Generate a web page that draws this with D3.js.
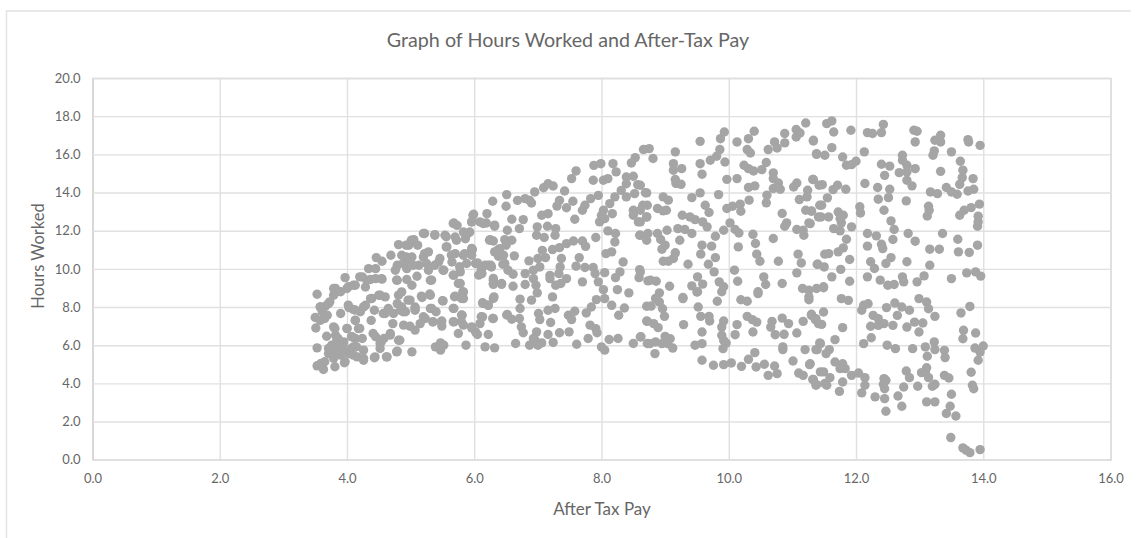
<!DOCTYPE html>
<html><head><meta charset="utf-8">
<script src="https://cdnjs.cloudflare.com/ajax/libs/d3/7.8.5/d3.min.js"></script>
<style>html,body{margin:0;padding:0;background:#fff}svg{display:block}text{font-family:Lato,"Open Sans",sans-serif}</style>
</head><body><div id="chart"></div>
<script>
const chartTitle = "Graph of Hours Worked and After-Tax Pay";
const xTitle = "After Tax Pay";
const yTitle = "Hours Worked";
const xTicks = [0,2,4,6,8,10,12,14,16];
const yTicks = [0,2,4,6,8,10,12,14,16,18,20];
// [after tax pay, hours worked]
const lowPayPoints = [
[3.53,8.67],[3.58,8.0],[3.66,8.04],[3.73,8.27],[3.61,7.75],[3.5,7.45],[3.69,7.57],[3.58,7.3],[3.51,6.9],[3.79,6.96],[3.68,6.47],[3.82,6.52],[3.53,5.86],[3.76,6.0],[3.84,5.83],[3.71,5.56],[3.79,5.48],[3.92,5.91],[3.9,5.48],[3.53,4.92],[3.59,5.04],[3.63,4.73],[3.81,4.87],[3.96,5.08],[4.03,5.56],[4.1,5.91],[4.08,6.44],[4.0,6.87],[4.18,6.87],[4.13,7.3],[3.9,7.66],[4.03,7.97],[4.1,7.87],[4.21,7.75],[4.29,8.09],[4.37,8.44],[4.5,8.62],[4.6,8.53],[4.43,7.83],[4.38,7.3],[3.82,8.97],[3.9,8.8],[3.79,8.62],[3.97,9.54],[4.0,8.97],[4.1,9.14],[4.24,9.58],[4.34,10.01],[4.29,9.05],[4.37,9.44],[4.45,9.49],[4.55,9.46],[4.46,10.59],[4.55,10.4],[4.45,10.01],[4.69,10.71],[4.81,11.27],[4.79,10.19],[4.76,9.93],[4.86,10.71],[4.94,10.45],[4.97,11.24],[5.05,11.53],[5.11,11.24],[5.02,10.62],[4.94,10.01],[4.79,9.4],[4.94,9.44],[5.1,9.61],[5.02,9.14],[4.86,8.79],[4.79,8.18],[4.99,8.36],[5.07,8.0],[4.84,7.83],[4.65,7.92],[4.6,7.66],[4.73,7.66],[4.92,7.75],[5.07,7.83],[5.18,8.5],[5.31,8.62],[5.51,8.32],[5.23,7.4],[5.31,7.92],[5.4,7.75],[5.68,7.92],[5.68,7.22],[5.81,7.57],[5.35,7.22],[5.49,7.27],[5.49,7.0],[5.15,7.13],[5.07,6.79],[4.99,6.99],[4.89,7.05],[4.72,7.13],[5.75,6.61],[5.83,7.05],[5.96,6.96],[6.02,6.7],[5.87,6.0],[5.47,6.12],[5.39,5.91],[5.47,5.74],[5.52,6.0],[5.02,5.65],[4.79,5.69],[4.63,5.39],[4.43,5.34],[4.26,5.21],[4.26,5.74],[4.52,5.83],[4.45,6.44],[4.58,6.35],[4.68,6.61],[4.81,6.26],[4.52,6.09],[4.13,6.35],[4.24,6.35],[5.22,11.85],[5.38,11.79],[5.54,11.76],[5.57,11.15],[5.28,10.89],[5.2,10.62],[5.13,10.19],[5.28,9.93],[5.31,9.4],[5.44,10.36],[5.52,9.93],[5.68,12.4],[5.73,12.28],[5.99,12.86],[5.96,12.46],[5.83,11.93],[5.86,11.58],[5.7,11.67],[5.7,10.8],[5.65,10.36],[5.83,10.71],[5.96,10.97],[5.88,10.28],[5.78,9.84],[5.68,9.67],[5.78,9.23],[5.83,8.79],[5.7,8.57],[5.83,8.44],[6.02,10.28],[6.07,9.67],[3.84,6.26],[3.95,6.17],[3.79,5.74],[3.95,5.65],[4.16,5.39],[4.05,5.8]
];
const lowPayDensePoints = [
[3.81,5.74],[3.71,5.83],[3.92,6.0],[3.86,6.35],[4.0,5.65],[3.79,5.31],[4.1,5.48],[4.15,5.92],[3.65,5.13],[3.97,5.13],[4.26,5.31],[4.07,6.44],[4.0,6.88],[4.13,7.31],[4.2,6.88],[3.81,6.88],[3.65,7.4],[3.58,8.01],[3.71,8.18],[3.84,8.8],[3.79,8.97],[4.02,8.1],[4.13,7.84],[4.26,8.01],[4.39,8.45],[4.52,8.62],[4.02,9.06],[4.13,9.14],[4.57,7.66],[4.41,6.61],[4.54,6.18],[4.68,6.53],[4.83,6.26],[4.44,5.39],[4.62,5.39],[4.78,5.65],[4.65,7.84],[4.86,8.01],[4.81,8.62],[4.78,9.41],[4.54,9.49],[4.2,9.58],[4.31,9.41],
[4.93,10.63],[4.88,10.28],[5.04,10.19],[5.25,10.28],[5.38,10.19],[5.46,10.54],[5.51,9.93],[5.33,9.41],[5.22,10.8],[5.56,11.15],[5.64,10.72],[5.85,10.8],[5.96,11.07],[5.72,11.5],[5.9,11.85],[5.56,11.68],[5.38,11.76],[5.2,11.85],[5.01,11.5],[4.93,11.24],[5.67,9.67],[5.77,10.11],[5.75,9.23],[5.82,8.8],[5.69,8.54],[5.8,8.45],[5.17,8.57],[5.3,8.68],[5.5,8.33],[5.67,7.93],[4.96,8.36],[5.07,7.93],[4.88,7.75],[5.33,7.93],[5.2,7.49],[5.35,7.23],[5.48,7.23],[5.67,7.23],[5.8,7.58],[5.8,7.23],[6.14,8.19],[6.3,8.45],[6.22,8.1],[6.11,7.49],[6.3,7.4],[6.51,7.58],[6.03,10.28],[6.11,9.93],[6.22,10.19],[6.27,10.1],[6.3,9.5],[6.3,9.23],[6.43,9.23],[6.24,11.5],[6.37,10.98],[6.5,11.24],[6.4,10.8],[6.48,10.28],[6.14,12.38],[6.32,12.29],[5.67,12.38],[5.96,12.46]
];
const midPayPoints = [
[6.29,13.54],[6.51,13.89],[6.5,13.28],[6.68,13.59],[6.8,13.68],[6.87,13.59],[6.9,13.45],[6.95,14.03],[7.09,14.25],[7.16,14.46],[7.24,14.34],[7.42,14.08],[7.55,13.54],[7.53,14.73],[7.6,15.13],[7.88,15.42],[7.99,15.51],[8.18,15.51],[8.47,15.55],[8.53,15.83],[7.87,14.64],[8.03,14.64],[8.1,14.73],[8.23,15.08],[8.39,14.81],[8.5,14.85],[8.39,14.46],[8.57,14.41],[8.52,13.94],[8.69,13.99],[7.95,13.85],[7.83,13.68],[7.74,13.33],[7.7,13.07],[7.58,12.6],[7.34,13.59],[7.3,13.29],[7.45,13.2],[7.16,12.89],[7.06,12.81],[6.59,12.6],[6.77,12.58],[6.71,12.11],[6.2,12.89],[5.98,12.81],[6.09,12.46],[6.19,12.4],[6.32,12.23],[5.93,11.93],[6.52,12.02],[7.15,12.23],[6.99,12.2],[6.98,11.76],[7.1,11.64],[7.28,12.11],[7.27,11.76],[6.25,11.53],[6.3,11.46],[6.48,11.53],[6.59,11.5],[6.4,11.06],[6.32,10.89],[6.38,10.66],[6.46,10.71],[6.63,10.68],[5.97,11.01],[5.96,10.71],[6.05,10.31],[6.17,10.19],[6.26,10.19],[6.12,9.75],[6.45,10.24],[6.53,9.93],[6.61,9.72],[6.3,9.4],[6.3,9.19],[6.43,9.19],[6.61,9.09],[6.8,9.75],[6.8,9.18],[6.93,9.93],[6.93,9.49],[6.97,9.14],[6.99,8.74],[6.86,10.42],[7.0,10.54],[7.07,10.97],[7.12,10.59],[7.03,10.1],[7.23,11.01],[7.34,11.11],[7.45,11.32],[7.56,11.46],[7.7,11.46],[7.75,11.18],[7.91,11.64],[8.1,11.99],[8.22,11.85],[8.21,11.41],[8.16,10.89],[8.07,10.8],[8.03,13.07],[7.97,12.46],[8.05,12.63],[8.17,12.89],[8.0,12.81],[8.13,13.42],[8.21,13.77],[8.31,14.11],[8.39,13.77],[8.5,13.07],[8.5,12.81],[8.58,12.46],[8.65,13.33],[8.71,12.72],[8.6,11.76],[8.73,11.85],[8.71,11.5],[7.37,10.54],[7.35,10.1],[7.33,9.75],[7.19,9.66],[7.19,9.49],[7.45,9.49],[7.28,9.14],[7.36,9.23],[7.65,10.59],[7.6,10.14],[7.74,10.07],[7.87,10.07],[7.9,9.75],[8.05,9.8],[7.95,9.32],[7.7,9.32],[8.03,8.91],[8.34,10.36],[8.29,9.84],[8.22,9.54],[8.6,9.96],[8.59,9.54],[8.73,9.37],[8.25,8.91],[8.43,8.74],[7.92,8.39],[8.05,8.44],[8.16,8.09],[7.84,8.0],[7.76,7.69],[8.36,7.95],[8.27,7.57],[8.71,8.04],[8.71,7.27],[7.23,8.53],[6.9,8.36],[6.72,8.41],[6.72,7.92],[6.31,8.53],[6.22,8.09],[6.13,8.22],[6.13,7.48],[6.09,7.13],[5.96,6.91],[6.05,6.56],[6.22,6.56],[6.29,7.4],[6.52,7.61],[6.59,7.36],[6.71,7.4],[7.01,7.66],[7.03,7.34],[7.16,7.83],[7.27,7.92],[7.2,7.19],[7.58,7.78],[7.48,7.57],[7.53,7.34],[6.74,6.96],[6.77,6.65],[6.98,6.7],[7.16,6.56],[7.34,6.65],[7.49,6.7],[6.93,6.35],[7.82,7.05],[7.91,6.87],[7.93,6.65],[7.79,6.35],[8.12,6.3],[8.26,6.35],[8.5,6.09],[8.62,6.44],[8.72,6.09],[8.0,5.91],[8.05,5.74],[7.61,6.05],[6.17,5.91],[6.32,5.86],[6.65,6.09],[6.87,6.0],[7.0,6.0],[7.06,6.12],[7.24,6.14],[6.95,6.3]
];
const upperPayPoints = [
[8.66,16.25],[8.75,16.3],[8.81,15.78],[9.16,16.13],[9.55,16.68],[9.93,17.17],[9.87,16.82],[9.86,16.25],[9.81,15.9],[9.71,15.69],[9.94,15.6],[9.55,15.51],[9.58,14.96],[9.13,15.51],[9.26,15.25],[9.13,15.17],[9.16,14.68],[9.17,14.47],[9.25,14.43],[9.97,14.69],[10.13,14.73],[10.13,16.65],[10.31,16.82],[10.4,17.21],[10.29,16.25],[10.34,16.07],[10.62,16.25],[10.72,16.65],[10.76,16.33],[10.88,16.6],[10.88,17.09],[11.06,17.3],[11.12,17.12],[11.06,16.91],[11.21,17.64],[11.33,16.74],[11.38,16.04],[10.24,15.43],[10.31,15.25],[10.39,15.13],[10.52,15.2],[10.59,15.57],[10.7,15.03],[10.7,14.73],[10.78,14.5],[10.7,14.21],[10.81,14.17],[10.6,13.86],[10.59,13.46],[10.31,14.26],[10.41,14.35],[11.02,14.29],[11.07,14.5],[11.32,14.68],[11.24,14.12],[11.23,13.77],[11.11,13.63],[11.42,14.38],[11.21,13.07],[11.3,13.02],[11.43,13.33],[11.41,12.72],[11.26,12.41],[10.84,12.9],[10.91,12.41],[10.88,12.23],[11.07,12.06],[11.17,12.02],[11.18,11.76],[8.71,13.98],[8.61,14.38],[8.97,13.77],[9.05,13.6],[9.42,13.73],[9.55,13.98],[9.84,13.89],[9.63,13.33],[9.69,12.95],[9.97,13.16],[10.06,13.28],[10.18,13.39],[10.32,13.6],[10.19,13.02],[8.72,13.33],[8.61,13.07],[8.71,12.72],[8.88,13.16],[8.97,13.04],[9.02,13.07],[8.61,12.46],[9.27,12.81],[9.39,12.72],[9.47,12.58],[9.59,12.46],[9.66,12.2],[9.03,12.02],[9.2,12.11],[9.31,12.06],[9.42,11.85],[9.23,11.5],[8.88,11.85],[8.61,11.76],[8.93,11.54],[9.0,11.24],[8.95,11.03],[9.16,10.84],[9.13,10.54],[8.97,10.4],[9.05,10.4],[9.36,10.24],[9.58,11.24],[9.56,10.77],[9.73,11.19],[9.79,10.59],[9.68,10.24],[9.77,9.84],[9.79,11.71],[9.92,12.02],[10.02,12.41],[10.1,12.06],[10.16,11.88],[10.15,11.15],[10.38,11.81],[10.42,11.33],[10.44,10.77],[10.49,10.4],[10.7,11.59],[10.78,10.4],[11.09,10.77],[11.14,10.31],[11.4,10.24],[10.09,9.93],[10.14,9.35],[10.55,9.58],[10.58,9.18],[10.46,8.8],[10.84,9.23],[11.07,9.79],[11.16,8.97],[11.26,8.88],[11.26,8.53],[11.38,8.97],[8.77,9.41],[8.86,9.35],[9.07,9.09],[8.91,8.74],[8.85,8.45],[9.28,8.5],[9.42,9.11],[9.51,9.58],[9.59,9.2],[9.51,8.8],[9.85,9.32],[9.92,9.06],[9.89,8.8],[8.61,9.84]
];
const lowerPayPoints = [
[9.28,8.44],[9.5,8.79],[9.82,8.3],[10.19,8.38],[10.29,8.3],[10.46,8.7],[11.26,8.38],[8.78,8.05],[8.91,8.26],[8.96,7.91],[8.99,7.51],[8.72,7.25],[8.82,7.13],[8.89,6.92],[9.29,7.08],[9.52,8.0],[9.56,7.51],[9.69,7.51],[9.7,7.27],[9.92,7.27],[9.89,6.95],[9.89,6.52],[9.58,6.69],[10.13,7.08],[10.1,6.55],[10.29,7.51],[10.37,7.34],[10.44,7.21],[10.38,6.69],[10.68,7.25],[10.66,6.95],[10.73,6.55],[10.84,7.42],[10.94,7.13],[10.87,6.57],[11.07,6.64],[11.17,7.25],[11.3,7.62],[11.36,7.34],[11.41,7.13],[8.61,6.43],[8.76,6.08],[8.85,6.17],[9.0,6.46],[9.08,6.34],[8.95,6.08],[9.04,6.08],[9.12,5.85],[8.84,5.56],[9.47,6.0],[9.58,6.08],[9.92,6.25],[9.96,6.11],[9.91,5.82],[9.58,5.21],[9.76,4.95],[9.92,4.98],[10.04,5.07],[10.2,4.89],[10.31,5.26],[10.41,5.61],[10.43,4.86],[10.56,5.0],[10.62,4.42],[10.72,4.91],[10.76,4.51],[10.85,5.91],[10.85,5.77],[11.01,5.17],[11.2,5.77],[11.39,5.77],[11.27,4.98],[11.1,4.54],[11.17,4.42],[11.32,4.2],[11.38,3.93],[11.44,6.08],[11.44,4.6]
];
const highPayUpperPoints = [
[11.54,17.61],[11.62,17.75],[11.65,17.17],[11.92,17.26],[12.18,17.14],[12.26,17.09],[12.4,17.14],[12.43,17.57],[12.91,17.26],[12.96,17.21],[12.93,16.65],[13.24,16.74],[13.33,17.0],[13.33,16.65],[13.76,16.77],[13.77,16.65],[13.95,16.47],[11.33,16.7],[11.62,16.35],[11.38,16.0],[11.51,15.95],[11.79,15.86],[12.13,16.13],[13.23,16.18],[13.21,15.95],[13.5,16.13],[12.73,15.95],[12.73,15.69],[12.8,15.43],[11.85,15.43],[11.93,15.46],[12.0,15.64],[12.4,15.48],[12.53,15.38],[12.93,15.25],[12.68,15.04],[12.8,15.08],[12.45,14.9],[13.33,15.11],[13.64,15.64],[13.68,15.17],[13.67,14.78],[13.84,14.73],[13.63,14.43],[12.8,14.64],[12.88,14.35],[11.33,14.68],[11.47,14.41],[11.71,14.38],[11.64,14.15],[11.84,14.17],[12.14,14.47],[12.34,14.26],[12.53,14.17],[12.51,13.73],[12.35,13.65],[12.79,13.56],[13.17,14.03],[13.28,13.94],[13.42,14.26],[13.5,14.03],[13.59,13.91],[13.76,14.08],[13.85,14.17],[11.55,13.72],[11.46,13.33],[11.3,13.04],[12.06,13.25],[12.07,12.93],[12.44,13.07],[13.14,13.28],[13.15,13.07],[13.12,12.77],[13.63,12.81],[13.7,13.07],[13.81,13.21],[13.94,13.39],[13.92,12.76],[13.92,12.46],[13.91,12.23],[11.45,12.72],[11.57,12.72],[11.72,12.98],[11.8,12.81],[11.75,12.64],[11.77,12.41],[11.28,12.37],[12.55,12.51],[12.6,12.06],[11.93,12.2],[11.65,12.11],[11.75,11.99],[12.18,11.85],[12.32,11.73],[12.58,11.54],[12.82,11.85],[12.93,11.45],[13.36,11.85],[11.85,11.55],[12.18,11.19],[12.4,11.29],[12.42,11.06],[11.8,11.1],[11.72,10.89],[11.51,10.77],[11.57,10.8],[13.16,11.03],[13.31,11.03],[13.6,11.55],[13.61,10.89],[13.78,10.86],[13.91,11.24],[12.55,10.59],[12.47,10.28],[12.23,10.37],[12.29,10.02],[12.8,10.37],[13.16,10.19],[11.9,10.49],[11.76,9.97],[11.39,10.24],[11.5,10.1],[11.62,9.58],[11.9,9.35],[11.49,9.06],[12.18,9.58],[12.38,9.41],[12.5,9.14],[12.6,9.18],[12.73,9.58],[12.75,9.32],[12.96,9.32],[13.07,9.63],[13.5,9.49],[13.74,9.79],[13.88,9.84],[13.96,9.62]
];
const highPayLowerPoints = [
[11.77,8.44],[11.88,8.35],[12.99,8.44],[13.11,8.26],[13.14,7.91],[13.79,8.03],[13.65,7.69],[11.49,9.01],[11.49,7.74],[11.3,7.56],[11.37,7.39],[11.46,7.09],[11.79,6.92],[12.09,7.83],[12.19,8.17],[12.12,8.09],[12.27,7.56],[12.35,7.39],[12.35,7.04],[12.23,6.99],[12.44,7.13],[12.58,7.04],[12.48,7.97],[12.61,8.21],[12.72,8.0],[12.84,7.83],[12.65,7.56],[12.8,6.95],[12.92,7.21],[13.05,7.16],[12.99,6.69],[13.24,7.51],[11.67,6.29],[11.43,6.12],[11.37,5.77],[11.58,5.77],[11.53,5.56],[11.28,5.03],[11.67,5.12],[11.79,5.03],[11.75,4.77],[11.83,4.77],[11.49,4.6],[11.33,4.2],[11.37,3.9],[11.51,3.99],[11.59,4.3],[11.54,3.9],[11.79,4.07],[11.74,3.58],[11.93,4.42],[12.04,4.54],[12.14,4.3],[12.14,3.9],[12.09,3.5],[12.24,6.39],[12.12,6.08],[12.49,6.0],[12.62,5.82],[12.89,5.82],[13.09,5.91],[13.23,6.17],[13.24,5.77],[13.12,5.42],[13.39,5.73],[13.4,5.35],[13.69,6.78],[13.68,6.34],[13.88,6.64],[13.87,5.85],[14.0,5.96],[13.95,5.64],[13.92,5.21],[13.81,4.58],[13.83,3.9],[13.85,3.72],[13.11,4.82],[13.09,4.6],[13.03,4.56],[13.14,4.3],[12.79,4.65],[12.84,4.3],[13.39,4.42],[13.46,4.28],[13.24,3.95],[13.2,3.85],[12.97,3.85],[12.75,3.81],[12.66,3.34],[12.72,2.8],[12.44,4.25],[12.43,3.95],[12.47,4.16],[12.45,3.72],[12.3,3.29],[12.45,3.2],[12.47,2.54],[13.11,3.03],[13.24,3.03],[13.5,3.43],[13.48,2.8],[13.42,2.42],[13.57,2.29],[13.49,1.16],[13.68,0.62],[13.73,0.5],[13.79,0.37],[13.95,0.53]
];
const allPoints = [...lowPayPoints, ...lowPayDensePoints, ...midPayPoints, ...upperPayPoints, ...lowerPayPoints, ...highPayUpperPoints, ...highPayLowerPoints];

const W = 1139, H = 538;
const plot = {left: 92.5, right: 1110.5, top: 78, bottom: 459.7};
const gridColor = "#e0e0e0", textColor = "#666666", pointColor = "#a5a5a5";
const x = d3.scaleLinear().domain([0,16]).range([plot.left, plot.right]);
const y = d3.scaleLinear().domain([0,20]).range([plot.bottom, plot.top]);
const svg = d3.select("#chart").append("svg").attr("width", W).attr("height", H);

// chart frame: top and left edges visible in the crop
svg.append("path").attr("d", `M6.5 ${H} V11 H1131`).attr("fill","none").attr("stroke","#e2e2e2").attr("stroke-width",1.4);

const xAxis = svg.append("g").attr("transform",`translate(0,${plot.bottom})`)
  .call(d3.axisBottom(x).tickValues(xTicks).tickFormat(d3.format(".1f")).tickSize(-(plot.bottom-plot.top)).tickPadding(14));
const yAxis = svg.append("g").attr("transform",`translate(${plot.left},0)`)
  .call(d3.axisLeft(y).tickValues(yTicks).tickFormat(d3.format(".1f")).tickSize(-(plot.right-plot.left)).tickPadding(12));
[xAxis,yAxis].forEach(a=>{
  a.select(".domain").attr("stroke","#d4d4d4").attr("stroke-width",1.4);
  a.selectAll(".tick line").attr("stroke",gridColor).attr("stroke-width",1.4);
  a.selectAll("text").attr("fill",textColor).attr("font-size",13).attr("font-family","Lato");
});

svg.append("g").selectAll("circle").data(allPoints).join("circle")
  .attr("cx",d=>x(d[0])).attr("cy",d=>y(d[1])).attr("r",4.7).attr("fill",pointColor);

svg.append("text").attr("x",568).attr("y",47).attr("text-anchor","middle").attr("fill",textColor).attr("font-size",19.7).text(chartTitle);
svg.append("text").attr("x",602).attr("y",515).attr("text-anchor","middle").attr("fill",textColor).attr("font-size",17).text(xTitle);
svg.append("text").attr("transform","translate(44,256) rotate(-90)").attr("text-anchor","middle").attr("fill",textColor).attr("font-size",16.5).text(yTitle);
</script></body></html>
